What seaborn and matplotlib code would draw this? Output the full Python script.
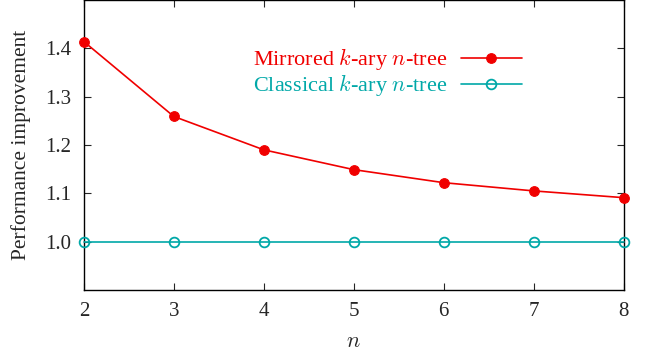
import matplotlib
matplotlib.use("Agg")
import matplotlib.pyplot as plt
import pandas as pd
import seaborn as sns

# data
n_values = [2, 3, 4, 5, 6, 7, 8]
mirrored = [1.414, 1.259, 1.190, 1.149, 1.122, 1.105, 1.091]
classical = [1.0, 1.0, 1.0, 1.0, 1.0, 1.0, 1.0]
yticks = [1.0, 1.1, 1.2, 1.3, 1.4]

sns.set_style("ticks")
plt.rcParams["font.family"] = ["Liberation Serif", "DejaVu Serif"]
plt.rcParams["mathtext.fontset"] = "cm"
plt.rcParams["font.size"] = 15

red = "#f00000"
teal = "#00a8a8"

df = pd.DataFrame({"n": n_values, "mirrored": mirrored, "classical": classical})

fig = plt.figure(figsize=(6.45, 3.58), dpi=100)
ax = fig.add_axes([0.130, 0.19, 0.837, 0.81])

sns.lineplot(data=df, x="n", y="mirrored", ax=ax, color=red, lw=1.2,
             marker="o", markersize=7, markeredgecolor=red,
             label=r"Mirrored $k$-ary $n$-tree", clip_on=False, zorder=3)
sns.lineplot(data=df, x="n", y="classical", ax=ax, color=teal, lw=1.2,
             marker="o", markersize=7, markerfacecolor="none",
             markeredgecolor=teal, markeredgewidth=1.3,
             label=r"Classical $k$-ary $n$-tree", clip_on=False, zorder=3)

ax.set_xlim(2, 8)
ax.set_ylim(0.9, 1.5)
ax.set_xticks(n_values)
ax.set_yticks(yticks)
ax.set_yticklabels([f"{v:.1f}" for v in yticks])
ax.set_xlabel(r"$n$", fontsize=16, labelpad=8)
ax.set_ylabel("Performance improvement", fontsize=15.5, labelpad=10)
ax.tick_params(direction="in", top=True, right=True, length=5, width=0.8,
               labelsize=15, pad=9)
for s in ax.spines.values():
    s.set_linewidth(1.0)
    s.set_color("black")

leg = ax.legend(loc="upper right", bbox_to_anchor=(0.811, 0.84),
                markerfirst=False, frameon=False, handlelength=2.75,
                handletextpad=0.6, labelspacing=0.0, borderpad=0,
                borderaxespad=0, fontsize=16)
for txt, c in zip(leg.get_texts(), [red, teal]):
    txt.set_color(c)

fig.savefig("out.png", dpi=100)
